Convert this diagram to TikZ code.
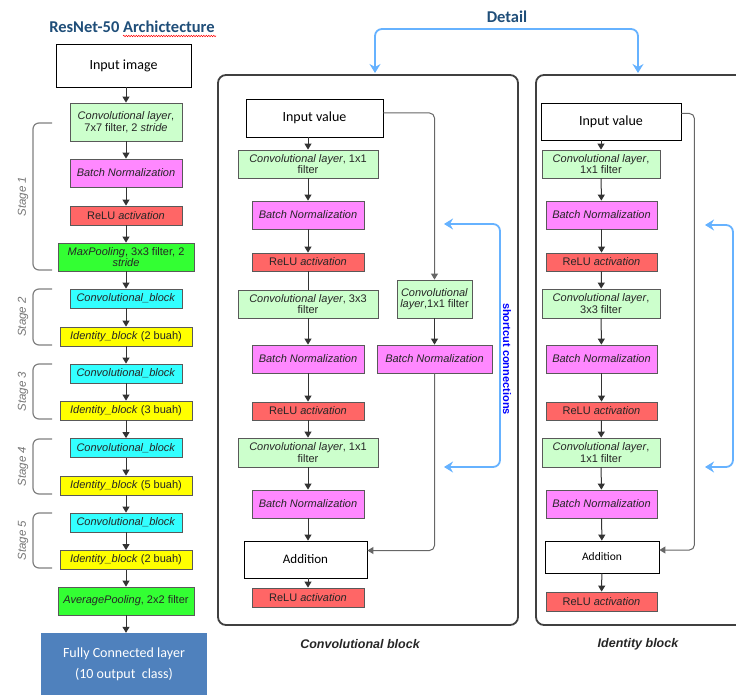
\documentclass[tikz,border=0pt]{standalone}
\usepackage{fontspec}
\setmainfont{Liberation Sans}
\newfontfamily\calibri{Carlito}
\usetikzlibrary{arrows.meta,decorations.pathmorphing}

\definecolor{convgreen}{HTML}{CCFFCC}
\definecolor{bnviolet}{HTML}{FF88FF}
\definecolor{relured}{HTML}{FF6666}
\definecolor{poolgreen}{HTML}{33FF33}
\definecolor{blkcyan}{HTML}{33FFFF}
\definecolor{idyellow}{HTML}{FFFF00}
\definecolor{fcblue}{HTML}{4F81BD}
\definecolor{titleblue}{HTML}{1F4E79}
\definecolor{scblue}{HTML}{66B2FF}

\begin{document}
\begin{tikzpicture}[x=1pt, y=-1pt,
    lyr/.style={draw=black!65, line width=0.8pt, inner sep=1pt, align=center,
        text=black!85, font=\fontsize{11}{11.5}\selectfont},
    conv/.style={lyr, fill=convgreen},
    bnorm/.style={lyr, fill=bnviolet, minimum width=112, minimum height=28},
    relu/.style={lyr, fill=relured, minimum width=112},
    pool/.style={lyr, fill=poolgreen, minimum width=136, minimum height=28},
    cblock/.style={lyr, fill=blkcyan, minimum width=112, minimum height=19},
    iblock/.style={lyr, fill=idyellow, minimum width=132, minimum height=19},
    plainbox/.style={draw=black, line width=0.8pt, fill=white, font=\calibri\fontsize{14}{16}\selectfont},
    arr/.style={-{Triangle[length=6pt,width=7pt]}, black!80, line width=1pt},
    shortarr/.style={arr, black!60, rounded corners=5},
    sc/.style={{Stealth[length=9pt,width=11pt,inset=3pt]}-{Stealth[length=9pt,width=11pt,inset=3pt]},
        scblue, line width=1.8pt, rounded corners=7},
    stagebrace/.style={black!50, line width=1.2pt, rounded corners=6},
    stagelbl/.style={rotate=90, text=black!55, font=\itshape\fontsize{11.5}{12}\selectfont},
    blockframe/.style={draw=black!75, line width=1.8pt, rounded corners=8},
    blkcaption/.style={text=black!85, font=\bfseries\itshape\fontsize{12.5}{14}\selectfont},
    headtxt/.style={text=titleblue, font=\calibri\bfseries\fontsize{16.5}{18}\selectfont}]

    \useasboundingbox (0,0) rectangle (736,695);
    \clip (0,0) rectangle (736,695);

    % Title
    \node[headtxt] (title) at (132,27) {ResNet-50 Archictecture};
    \draw[red, line width=0.5pt, decorate, decoration={snake, amplitude=0.7pt, segment length=2.5pt}]
        (123,36) -- (216,36);

    % Main column
    \node[plainbox, minimum width=135, minimum height=43] (inimg) at (123.5,65.5) {Input image};
    \node[conv, minimum width=112, minimum height=38] (c1) at (126,122)
        {\textit{Convolutional layer},\\7x7 filter, 2 \textit{stride}};
    \node[bnorm] (bn1) at (126,173) {\textit{Batch Normalization}};
    \node[relu, minimum height=19] (relu1) at (126,215.5) {ReLU \textit{activation}};
    \node[pool] (mpool) at (126,257) {\textit{MaxPooling}, 3x3 filter, 2\\\textit{stride}};
    \node[cblock] (cb2) at (126,298.5) {\textit{Convolutional\_block}};
    \node[iblock] (ib2) at (126,336.5) {\textit{Identity\_block} (2 buah)};
    \node[cblock] (cb3) at (126,373.5) {\textit{Convolutional\_block}};
    \node[iblock] (ib3) at (126,410.5) {\textit{Identity\_block} (3 buah)};
    \node[cblock] (cb4) at (126,448) {\textit{Convolutional\_block}};
    \node[iblock] (ib4) at (126,485.5) {\textit{Identity\_block} (5 buah)};
    \node[cblock] (cb5) at (126,522.5) {\textit{Convolutional\_block}};
    \node[iblock] (ib5) at (126,560) {\textit{Identity\_block} (2 buah)};
    \node[pool] (apool) at (126,601) {\textit{AveragePooling}, 2x2 filter};
    \node[fill=fcblue, minimum width=166, minimum height=62, text=white, align=center,
        font=\calibri\fontsize{14}{21}\selectfont] (fc) at (124,664)
        {Fully Connected layer\\(10 output~ class)};

    \draw[arr] (inimg.south -| c1.north) -- (c1);
    \draw[arr] (c1) -- (bn1);
    \draw[arr] (bn1) -- (relu1);
    \draw[arr] (relu1) -- (mpool);
    \draw[arr] (mpool) -- (cb2);
    \draw[arr] (cb2) -- (ib2);
    \draw[arr] (ib2) -- (cb3);
    \draw[arr] (cb3) -- (ib3);
    \draw[arr] (ib3) -- (cb4);
    \draw[arr] (cb4) -- (ib4);
    \draw[arr] (ib4) -- (cb5);
    \draw[arr] (cb5) -- (ib5);
    \draw[arr] (ib5) -- (apool);
    \draw[arr] (apool) -- (fc.north -| apool.south);

    % Stages
    \draw[stagebrace] (52,123) -- (33,123) -- (33,270) -- (52,270);
    \node[stagelbl] (st1) at (23,196.5) {Stage 1};
    \draw[stagebrace] (52,289) -- (33,289) -- (33,345) -- (52,345);
    \node[stagelbl] (st2) at (23,317) {Stage 2};
    \draw[stagebrace] (52,364) -- (33,364) -- (33,419) -- (52,419);
    \node[stagelbl] (st3) at (23,391.5) {Stage 3};
    \draw[stagebrace] (52,439) -- (33,439) -- (33,494) -- (52,494);
    \node[stagelbl] (st4) at (23,466.5) {Stage 4};
    \draw[stagebrace] (52,513) -- (33,513) -- (33,568) -- (52,568);
    \node[stagelbl] (st5) at (23,540.5) {Stage 5};

    % Convolutional block
    \draw[blockframe] (218,75) rectangle (518,625);
    \node[plainbox, minimum width=137, minimum height=38] (in1) at (314.5,118) {Input value};
    \node[conv, minimum width=140, minimum height=28] (m1) at (308,164)
        {\textit{Convolutional layer}, 1x1\\filter};
    \node[bnorm] (m2) at (308,215) {\textit{Batch Normalization}};
    \node[relu, minimum height=18] (m3) at (308,262) {ReLU \textit{activation}};
    \node[conv, minimum width=140, minimum height=28] (m4) at (308,304)
        {\textit{Convolutional layer}, 3x3\\filter};
    \node[bnorm] (m5) at (308,359) {\textit{Batch Normalization}};
    \node[relu, minimum height=18] (m6) at (308,411) {ReLU \textit{activation}};
    \node[conv, minimum width=140, minimum height=29] (m7) at (308,452.5)
        {\textit{Convolutional layer}, 1x1\\filter};
    \node[bnorm] (m8) at (308,504) {\textit{Batch Normalization}};
    \node[plainbox, minimum width=123, minimum height=37, font=\calibri\fontsize{13}{15}\selectfont]
        (add1) at (305.5,559.5) {Addition};
    \node[relu, minimum height=19] (m9) at (308,597.5) {ReLU \textit{activation}};
    \node[conv, minimum width=75, minimum height=38] (s1) at (434.5,299)
        {\textit{Convolutional}\\\textit{layer},1x1 filter};
    \node[bnorm, minimum width=115] (s2) at (434.5,359) {\textit{Batch Normalization}};

    \draw[arr] (in1.south -| m1.north) -- (m1);
    \draw[arr] (m1) -- (m2);
    \draw[arr] (m2) -- (m3);
    \draw[black!80, line width=1pt] (m3) -- (m4);
    \draw[arr] (m4) -- (m5);
    \draw[arr] (m5) -- (m6);
    \draw[arr] (m6) -- (m7);
    \draw[arr] (m7) -- (m8);
    \draw[arr] (m8) -- (add1.north -| m8.south);
    \draw[arr] (add1.south -| m9.north) -- (m9);
    \draw[shortarr] ([yshift=5pt]in1.east) -| (s1.north);
    \draw[arr] (s1) -- (s2);
    \draw[shortarr] (s2.south) |- ([yshift=9pt]add1.east);

    \coordinate (sca) at (444,224);
    \coordinate (scb) at (444,467);
    \draw[sc] (sca) -- ++(56,0) |- (scb);
    \node[rotate=-90, text=blue, font=\bfseries\fontsize{11}{12}\selectfont] (sctxt) at (507,359)
        {shortcut connections};

    \node[blkcaption] (capc) at (360,644) {Convolutional block};

    % Identity block
    \draw[blockframe] (536,75) rectangle (770,625);
    \node[plainbox, minimum width=140, minimum height=37] (in2) at (611,121.5) {Input value};
    \node[conv, minimum width=118, minimum height=28] (r1) at (601,164)
        {\textit{Convolutional layer},\\1x1 filter};
    \node[bnorm, minimum width=111] (r2) at (601.5,215) {\textit{Batch Normalization}};
    \node[relu, minimum width=111, minimum height=18] (r3) at (601.5,262) {ReLU \textit{activation}};
    \node[conv, minimum width=118, minimum height=29] (r4) at (601,303.5)
        {\textit{Convolutional layer},\\3x3 filter};
    \node[bnorm, minimum width=111] (r5) at (601.5,359) {\textit{Batch Normalization}};
    \node[relu, minimum width=111, minimum height=18] (r6) at (601.5,411) {ReLU \textit{activation}};
    \node[conv, minimum width=118, minimum height=29] (r7) at (601,452.5)
        {\textit{Convolutional layer},\\1x1 filter};
    \node[bnorm, minimum width=111] (r8) at (601.5,504) {\textit{Batch Normalization}};
    \node[plainbox, minimum width=114, minimum height=32, font=\calibri\fontsize{11.5}{13}\selectfont]
        (add2) at (602,557) {Addition};
    \node[relu, minimum width=111, minimum height=19] (r9) at (601.5,601.5) {ReLU \textit{activation}};

    \draw[arr] (in2.south -| r1.north) -- (r1);
    \draw[arr] (r1) -- (r2);
    \draw[arr] (r2) -- (r3);
    \draw[arr] (r3) -- (r4);
    \draw[arr] (r4) -- (r5);
    \draw[arr] (r5) -- (r6);
    \draw[arr] (r6) -- (r7);
    \draw[arr] (r7) -- (r8);
    \draw[arr] (r8) -- (add2);
    \draw[arr] (add2) -- (r9);
    \draw[shortarr] ([yshift=8pt]in2.east) -- ++(13,0) |- ([yshift=7pt]add2.east);

    \coordinate (sci) at (705,225);
    \coordinate (scj) at (705,467);
    \draw[sc] (sci) -- ++(28,0) |- (scj);

    \node[blkcaption] (capi) at (638,644) {Identity block};

    % Detail
    \node[headtxt] (detail) at (507,17) {Detail};
    \coordinate (dtl) at (375,73);
    \coordinate (dtr) at (638,73);
    \draw[sc] (dtl) -- ++(0,-44) -| (dtr);
\end{tikzpicture}
\end{document}
